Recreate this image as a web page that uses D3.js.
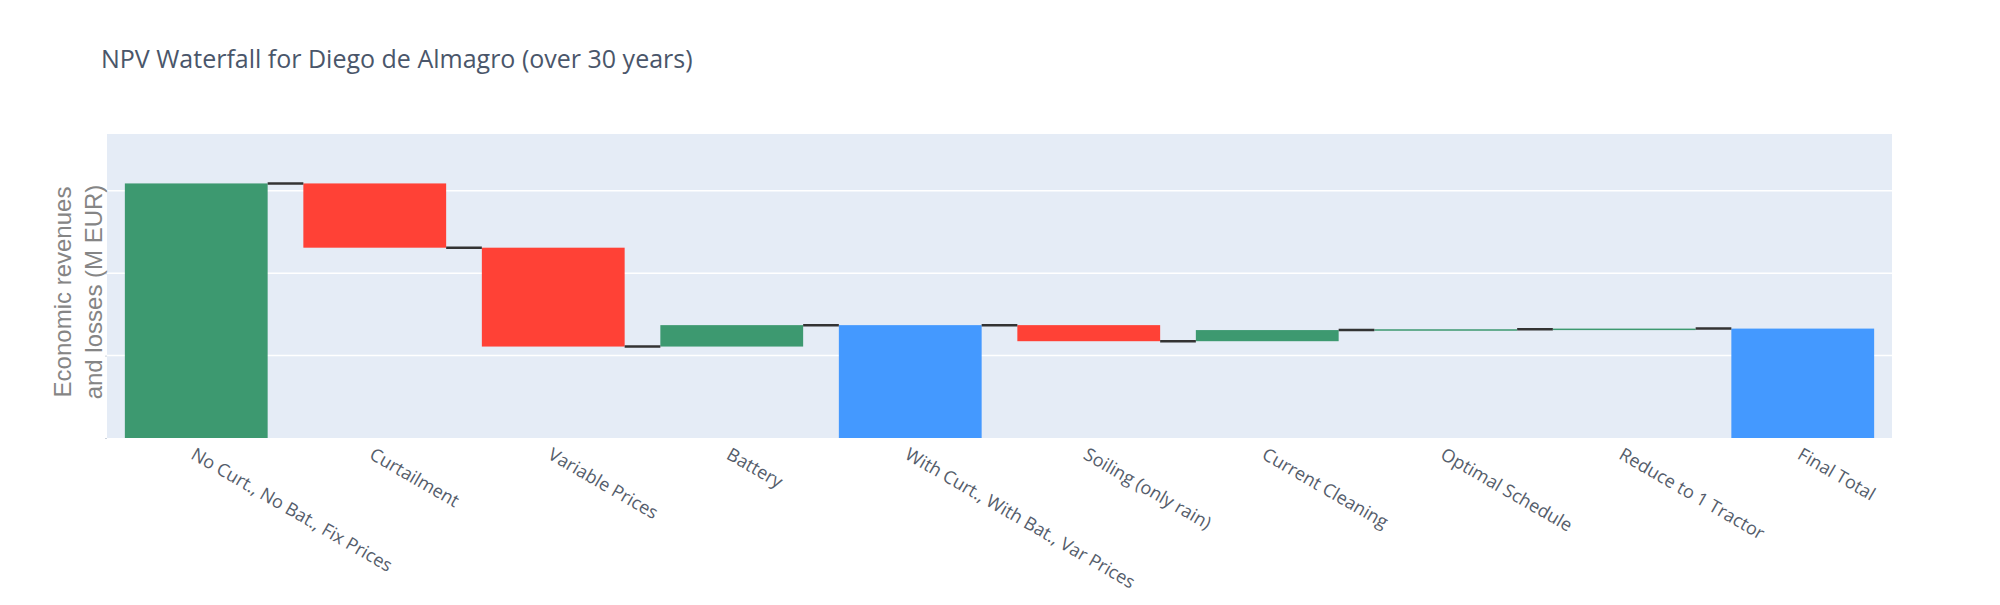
<!DOCTYPE html>
<html>
<head>
<meta charset="utf-8">
<script src="https://cdn.jsdelivr.net/npm/d3@7"></script>
<style>
  html, body { margin: 0; padding: 0; background: #fff; }
</style>
</head>
<body>
<svg id="chart" width="2000" height="605"></svg>
<script>
const categories = [
  'No Curt., No Bat., Fix Prices',
  'Curtailment',
  'Variable Prices',
  'Battery',
  'With Curt., With Bat., Var Prices',
  'Soiling (only rain)',
  'Current Cleaning',
  'Optimal Schedule',
  'Reduce to 1 Tractor',
  'Final Total'
];
// M EUR changes; null marks a running total bar
const deltas = [30.9, -7.8, -12.0, 2.6, null, -1.95, 1.35, 0.1, 0.08, null];
const measures = ['relative', 'relative', 'relative', 'relative', 'total',
  'relative', 'relative', 'relative', 'relative', 'total'];
const gridValues = [10, 20, 30];

const svg = d3.select('#chart');
const margin = { left: 107, right: 108, top: 134, bottom: 167 };
const width = 2000 - margin.left - margin.right;
const height = 605 - margin.top - margin.bottom;

// build waterfall steps
let running = 0;
const steps = categories.map((c, i) => {
  let start, end, kind;
  if (measures[i] === 'total') {
    start = 0; end = running; kind = 'total';
  } else {
    start = running; end = running + deltas[i];
    kind = deltas[i] >= 0 ? 'up' : 'down';
    running = end;
  }
  return { key: c, start, end, kind };
});

const colors = { up: '#3d9970', down: '#ff4136', total: '#4499ff' };

const x = d3.scaleBand()
  .domain(categories)
  .range([0, width])
  .paddingInner(0.2)
  .paddingOuter(0.1);
const y = d3.scaleLinear().domain([0, 36.9]).range([height, 0]);

// title
svg.append('text')
  .attr('x', 101)
  .attr('y', 68)
  .attr('font-family', '"Open Sans", sans-serif')
  .attr('font-size', '25px')
  .attr('fill', '#4a566a')
  .text('NPV Waterfall for Diego de Almagro (over 30 years)');

const g = svg.append('g')
  .attr('transform', 'translate(' + margin.left + ',' + margin.top + ')');

g.append('rect')
  .attr('width', width)
  .attr('height', height)
  .attr('fill', '#e5ecf6');

// grid
g.selectAll('.grid')
  .data(gridValues)
  .enter()
  .append('line')
  .attr('x1', 0)
  .attr('x2', width)
  .attr('y1', (d) => y(d))
  .attr('y2', (d) => y(d))
  .attr('stroke', '#fff')
  .attr('stroke-width', 1.5);

// tiny y ticks, no labels
g.append('g')
  .call(d3.axisLeft(y).tickValues([0].concat(gridValues)).tickSize(2).tickFormat(''))
  .call((a) => a.select('.domain').remove())
  .call((a) => a.selectAll('line').attr('stroke', '#ccd3dd'));

// bars
g.selectAll('.bar')
  .data(steps)
  .enter()
  .append('rect')
  .attr('class', 'bar')
  .attr('x', (d) => x(d.key))
  .attr('width', x.bandwidth())
  .attr('y', (d) => y(Math.max(d.start, d.end)))
  .attr('height', (d) => Math.max(1.5, Math.abs(y(d.start) - y(d.end))))
  .attr('fill', (d) => colors[d.kind]);

// connectors
g.selectAll('.conn')
  .data(steps.slice(0, -1))
  .enter()
  .append('line')
  .attr('x1', (d) => x(d.key) + x.bandwidth())
  .attr('x2', (d, i) => x(steps[i + 1].key))
  .attr('y1', (d) => y(d.end))
  .attr('y2', (d) => y(d.end))
  .attr('stroke', '#333')
  .attr('stroke-width', 2.5);

// x labels
g.selectAll('.xlab')
  .data(categories)
  .enter()
  .append('text')
  .attr('transform', (d) => 'translate(' + (x(d) + x.bandwidth() / 2) + ',' + (height + 9) + ') rotate(30)')
  .attr('dy', '0.71em')
  .attr('text-anchor', 'start')
  .attr('font-family', '"Open Sans", sans-serif')
  .attr('font-size', '18px')
  .attr('fill', '#555d6b')
  .text((d) => d);

// y title
const yt = svg.append('text')
  .attr('transform', 'translate(71,292) rotate(-90)')
  .attr('text-anchor', 'middle')
  .attr('font-family', '"Liberation Sans", Arial, sans-serif')
  .attr('font-size', '24px')
  .attr('fill', '#858585');
yt.append('tspan').attr('x', 0).attr('dy', 0).text('Economic revenues');
yt.append('tspan').attr('x', 0).attr('dy', 31).text('and losses (M EUR)');
</script>
</body>
</html>
